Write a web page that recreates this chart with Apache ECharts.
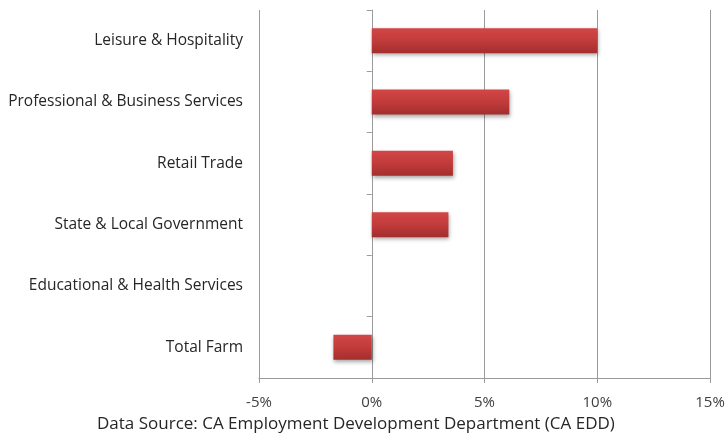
<!DOCTYPE html>
<html>
<head>
<meta charset="utf-8">
<script src="https://cdn.jsdelivr.net/npm/echarts@6/dist/echarts.min.js"></script>
<style>
  html, body { margin: 0; padding: 0; background: #fff; }
  #chart { width: 726px; height: 438px; }
</style>
</head>
<body>
<div id="chart"></div>
<script>
// Employment change by industry (percent), listed bottom to top
const categories = [
  'Total Farm',
  'Educational & Health Services',
  'State & Local Government',
  'Retail Trade',
  'Professional & Business Services',
  'Leisure & Hospitality'
];
const changePct = [-1.7, 0.0, 3.4, 3.6, 6.1, 10.0];
const axisMin = -5;
const axisMax = 15;
const axisStep = 5;
const sourceNote = 'Data Source: CA Employment Development Department (CA EDD)';

const font = '"Open Sans", "Liberation Sans", sans-serif';
const chart = echarts.init(document.getElementById('chart'));

chart.setOption({
  animation: false,
  grid: { left: 259, right: 16, top: 10, bottom: 60, outerBoundsMode: 'none', containLabel: false },
  graphic: [{
    type: 'text',
    left: 97,
    top: 416,
    style: { text: sourceNote, font: '17px ' + font, fill: '#262626' }
  }],
  xAxis: {
    type: 'value',
    min: axisMin,
    max: axisMax,
    interval: axisStep,
    axisLine: { show: true, lineStyle: { color: '#9a9a9a', width: 1 } },
    axisTick: { show: true, length: 5, lineStyle: { color: '#9a9a9a' } },
    splitLine: { show: true, lineStyle: { color: '#9a9a9a', width: 1 } },
    axisLabel: {
      margin: 17,
      color: '#404040',
      fontFamily: font,
      fontSize: 15,
      formatter: v => v + '%'
    }
  },
  yAxis: {
    type: 'category',
    data: categories,
    axisLine: { show: true, onZero: true, lineStyle: { color: '#9a9a9a' } },
    axisTick: { show: true, length: 5, lineStyle: { color: '#9a9a9a' } },
    axisLabel: {
      margin: 16,
      padding: [5, 0, 0, 0],
      color: '#262626',
      fontFamily: font,
      fontSize: 15.5
    }
  },
  series: [{
    type: 'bar',
    data: changePct,
    barWidth: 25,
    itemStyle: {
      color: new echarts.graphic.LinearGradient(0, 0, 0, 1, [
        { offset: 0, color: '#d24646' },
        { offset: 0.5, color: '#c23b3b' },
        { offset: 1, color: '#a32e2e' }
      ]),
      shadowColor: 'rgba(0,0,0,0.35)',
      shadowBlur: 4,
      shadowOffsetX: 1,
      shadowOffsetY: 2
    }
  }]
});
</script>
</body>
</html>
